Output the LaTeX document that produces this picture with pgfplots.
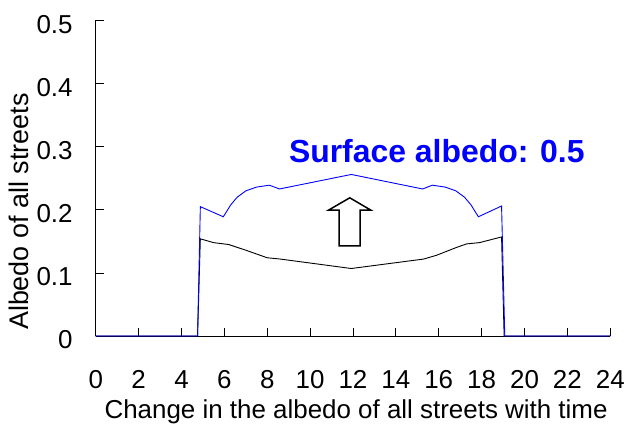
\documentclass[border=0pt]{standalone}
\usepackage{pgfplots}
\pgfplotsset{compat=1.18}
\usepackage{fontspec}
\setmainfont{Liberation Sans}
\definecolor{pureblue}{RGB}{0,0,255}
\begin{document}
\begin{tikzpicture}
  \begin{axis}[
      scale only axis,
      width=516pt, height=316.5pt,
      xmin=0, xmax=24, ymin=0, ymax=0.5,
      axis x line=bottom, axis y line=left,
      axis line style={-, line width=0.8pt},
      xtick={0,2,4,6,8,10,12,14,16,18,20,22,24},
      ytick={0,0.1,0.2,0.3,0.4,0.5},
      tick align=inside,
      major tick length=8pt,
      tick style={black, line width=0.8pt},
      tick label style={font=\fontsize{26}{30}\selectfont,
        /pgf/number format/assume math mode=true},
      xticklabel style={anchor=base, yshift=-52.7pt},
      yticklabel style={anchor=east, inner sep=0pt, xshift=-23pt, yshift=-4pt},
      xlabel={Change in the albedo of all streets with time},
      xlabel style={font=\fontsize{26}{30}\selectfont, anchor=base,
        at={(axis description cs:0.506,-0.262)}},
      ylabel={Albedo of all streets},
      ylabel style={font=\fontsize{27}{30}\selectfont, anchor=center, rotate=0,
        inner sep=0pt, at={(axis description cs:-0.149,0.394)}},
      clip=false,
      no markers]
    \addplot[color=black, line width=0.9pt] coordinates {
      (0,0) (4.75,0) (4.88,0.154) (5.5,0.148) (6.2,0.145) (7.0,0.136)
      (8.0,0.124) (8.6,0.122) (11.92,0.107) (15.3,0.122) (15.9,0.128)
      (16.8,0.140) (17.3,0.146) (17.9,0.148) (18.93,0.157) (19.05,0) (24,0)
    };
    \addplot[color=pureblue, line width=0.9pt] coordinates {
      (0,0) (4.75,0) (4.88,0.205) (5.95,0.189) (6.1,0.197) (6.3,0.208)
      (6.6,0.220) (7.0,0.230) (7.5,0.236) (8.1,0.239) (8.57,0.233)
      (11.92,0.256) (15.25,0.233) (15.7,0.239) (16.3,0.236) (16.8,0.230)
      (17.2,0.220) (17.5,0.208) (17.7,0.197) (17.85,0.189) (18.93,0.206)
      (19.08,0) (24,0)
    };
    % hollow up arrow
    \draw[line width=1.5pt, fill=white]
      (axis cs:11.85,0.219) -- (axis cs:12.83,0.1995) -- (axis cs:12.33,0.1995)
      -- (axis cs:12.33,0.1427) -- (axis cs:11.35,0.1427) -- (axis cs:11.35,0.1995)
      -- (axis cs:10.86,0.1995) -- cycle;
    \node[anchor=base, text=pureblue, inner sep=0pt,
      font=\fontsize{32}{36}\selectfont\bfseries]
      at (axis cs:15.91,0.2744) {Surface albedo: 0.5};
  \end{axis}
  \path (current axis.south west) ++(-96pt,-92pt) rectangle ++(628pt,429pt);
\end{tikzpicture}
\end{document}
